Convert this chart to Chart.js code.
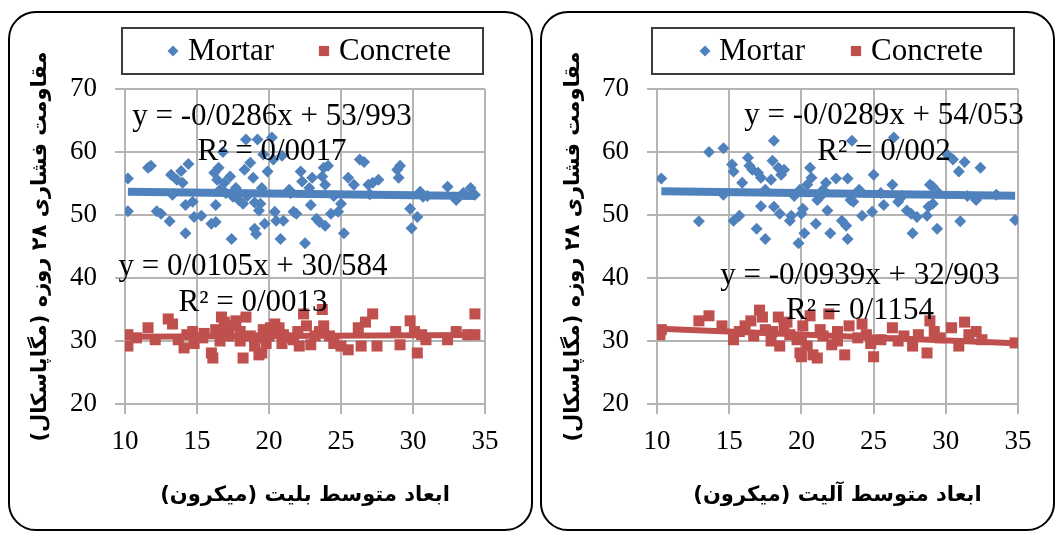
<!DOCTYPE html>
<html><head><meta charset="utf-8">
<script src="https://cdn.jsdelivr.net/npm/chart.js@4.4.1/dist/chart.umd.min.js"></script>
<style>
html,body{margin:0;padding:0;background:#fff;width:1058px;height:533px;overflow:hidden;}
.panel{position:absolute;top:11px;height:520px;border:2px solid #000;border-radius:28px;box-sizing:border-box;}
#p1{left:8px;width:525px;}
#p2{left:540px;width:515px;}
canvas{position:absolute;top:13px;}
#c1{left:10px;}
#c2{left:542px;}
</style></head><body>
<div class="panel" id="p1"></div><div class="panel" id="p2"></div>
<canvas id="c1" width="521" height="516"></canvas>
<canvas id="c2" width="511" height="516"></canvas>
<script>
// ---------- DATA ----------
const seriesNames = ['Mortar', 'Concrete'];
const xTicks = [10, 15, 20, 25, 30, 35];
const yTicks = [20, 30, 40, 50, 60, 70];
const yTitle = 'مقاومت فشاری ۲۸ روزه (مگاپاسکال)';
const xTitleBelite = 'ابعاد متوسط بلیت (میکرون)';
const xTitleAlite = 'ابعاد متوسط آلیت (میکرون)';

const beliteMortar = [[10.2,55.8],[10.2,50.6],[11.6,57.5],[11.8,57.8],[12.2,50.6],[12.5,50.2],[13.1,49.0],[13.2,56.4],[13.3,53.2],[13.6,55.6],[13.9,57.0],[14.0,55.1],[14.2,51.6],[14.2,47.1],[14.4,58.1],[14.7,52.1],[14.8,49.7],[15.3,49.9],[16.0,48.6],[16.3,48.9],[16.2,56.7],[16.5,57.5],[16.4,55.6],[16.3,51.6],[16.6,54.0],[16.8,60.0],[16.9,55.1],[17.3,56.1],[17.4,46.2],[17.5,52.9],[17.7,54.3],[17.9,52.4],[18.2,51.8],[18.3,57.2],[18.4,62.0],[18.7,58.3],[18.9,55.9],[19.0,47.8],[19.1,47.0],[19.2,62.0],[19.4,51.8],[19.3,50.7],[19.5,54.3],[19.6,59.6],[19.7,48.6],[19.9,56.9],[20.2,62.3],[20.3,58.8],[20.4,50.5],[20.5,49.1],[20.8,46.2],[20.9,59.4],[21.0,49.1],[21.4,54.0],[21.7,50.5],[21.9,50.2],[22.2,56.9],[22.3,55.3],[22.5,45.5],[22.8,54.3],[22.9,51.6],[23.0,55.9],[23.3,49.4],[23.5,48.9],[23.7,56.1],[23.8,57.5],[23.9,54.8],[23.9,48.3],[24.1,57.8],[24.3,50.2],[24.8,50.5],[25.0,51.8],[25.2,47.1],[25.5,55.9],[25.9,54.8],[26.3,58.8],[26.6,58.4],[26.9,54.8],[27.2,55.1],[27.6,55.6],[28.9,57.2],[29.0,55.9],[29.1,57.8],[29.8,51.0],[29.9,47.9],[30.3,49.7],[30.5,53.7],[30.7,52.9],[32.4,54.5],[33.0,52.4],[34.0,54.3],[34.3,53.2],[17.0,53.5],[18.5,53.0],[21.5,53.5],[24.5,53.0],[19.0,52.0],[27.0,53.3],[31.0,53.0],[33.5,53.5]];

const beliteConcrete = [[10.2,31.0],[10.2,29.2],[10.8,30.5],[11.6,32.1],[12.1,30.2],[13.0,33.5],[13.3,32.7],[13.7,30.2],[14.1,28.9],[14.3,31.0],[14.7,31.5],[14.8,29.6],[15.4,30.5],[15.5,31.2],[16.0,28.1],[16.1,27.3],[16.3,31.8],[16.6,30.0],[16.7,33.8],[16.9,33.0],[17.0,31.5],[17.2,30.8],[17.5,32.4],[17.7,33.2],[18.0,31.5],[18.0,30.0],[18.2,27.3],[18.4,33.8],[18.7,30.8],[19.0,29.2],[19.2,30.5],[19.3,27.8],[19.5,28.1],[19.6,31.8],[19.8,29.6],[20.0,30.8],[20.1,32.1],[20.4,32.7],[20.7,32.1],[20.9,29.6],[21.0,31.0],[21.3,30.5],[21.7,30.2],[22.0,31.5],[22.1,29.2],[22.4,34.3],[22.6,32.4],[22.9,29.4],[23.2,30.8],[23.5,31.5],[23.7,35.0],[23.8,32.4],[24.2,30.8],[24.5,29.6],[25.0,29.2],[25.5,28.6],[26.2,32.1],[26.4,29.2],[26.7,33.0],[27.2,34.3],[27.5,29.2],[28.8,31.5],[29.1,29.4],[29.8,33.2],[30.1,31.5],[30.3,28.1],[30.6,31.0],[30.9,30.2],[32.4,30.2],[33.0,31.5],[33.8,31.0],[34.3,34.3],[34.3,31.0]];

const aliteMortar = [[10.3,55.8],[12.9,49.0],[13.6,60.0],[14.6,60.6],[14.6,53.2],[15.2,58.0],[15.3,56.9],[15.3,49.1],[15.7,49.9],[15.9,55.1],[16.3,59.1],[16.4,57.8],[16.6,57.2],[16.9,47.8],[17.0,56.7],[17.2,55.9],[17.2,51.4],[17.5,46.2],[17.9,55.6],[18.0,58.6],[18.1,61.8],[18.1,51.3],[18.4,57.5],[18.5,50.2],[18.6,56.4],[18.8,57.2],[19.2,49.1],[19.3,49.9],[19.8,45.5],[19.9,54.0],[20.0,50.2],[20.1,51.0],[20.2,47.1],[20.4,54.8],[20.6,57.5],[20.7,55.9],[21.0,48.6],[21.1,52.4],[21.3,52.9],[21.7,55.1],[21.8,50.7],[22.0,47.1],[22.4,55.8],[22.8,49.1],[23.1,48.3],[23.2,46.2],[23.2,55.8],[23.4,52.4],[23.5,61.8],[23.6,52.1],[24.0,54.0],[24.2,49.9],[24.9,50.5],[25.0,56.4],[25.7,51.6],[26.3,54.8],[26.4,62.3],[26.7,52.1],[27.3,50.7],[27.6,50.2],[27.7,47.1],[28.0,49.7],[28.7,49.9],[28.8,51.3],[28.9,54.8],[29.1,51.8],[29.4,47.8],[29.1,54.5],[30.1,59.6],[30.5,58.8],[30.9,56.9],[31.0,49.0],[31.3,58.4],[32.1,52.4],[32.4,57.5],[34.8,49.2],[17.5,54.0],[19.5,53.0],[21.5,54.0],[25.5,53.5],[27.0,53.0],[29.5,53.5],[31.5,53.0],[33.5,53.2]];

const aliteConcrete = [[10.2,31.0],[10.3,31.8],[12.9,33.2],[13.6,34.0],[14.5,32.4],[15.3,30.2],[15.7,31.5],[16.1,32.4],[16.5,33.2],[16.7,30.8],[17.1,34.9],[17.3,33.8],[17.5,31.8],[17.9,30.0],[18.0,31.5],[18.4,33.8],[18.5,29.2],[18.8,32.4],[19.0,33.0],[19.2,31.0],[19.7,30.2],[19.9,28.1],[20.0,30.5],[20.0,27.5],[20.1,32.4],[20.4,29.2],[20.6,34.0],[20.8,27.8],[21.1,27.3],[21.3,31.8],[21.5,30.8],[21.9,34.3],[22.1,29.4],[22.5,31.5],[22.5,30.0],[23.0,27.8],[23.3,32.4],[23.9,30.5],[24.2,32.7],[24.5,31.0],[24.8,29.6],[25.0,27.5],[25.5,30.2],[26.3,32.1],[26.7,30.0],[27.1,30.8],[27.7,29.2],[28.1,31.0],[28.7,28.1],[28.9,33.2],[29.2,31.5],[29.6,30.5],[30.4,32.1],[30.9,29.2],[31.3,33.0],[31.6,31.0],[32.1,31.5],[32.5,30.2],[34.8,29.7]];

// trendline end points (as shown by the fitted lines)
const beliteMortarTrend = [[10.2,53.70],[34.3,53.01]];
const beliteConcreteTrend = [[10.2,30.69],[34.3,30.94]];
const aliteMortarTrend = [[10.3,53.76],[34.8,53.05]];
const aliteConcreteTrend = [[10.2,31.95],[34.8,29.64]];

const beliteLabels = ['y = -0/0286x + 53/993', 'R² = 0/0017', 'y = 0/0105x + 30/584', 'R² = 0/0013'];
const aliteLabels = ['y = -0/0289x + 54/053', 'R² = 0/002', 'y = -0/0939x + 32/903', 'R² = 0/1154'];

// ---------- STYLE ----------
const BLUE = '#4F81BD', RED = '#C0504D';
const GRID = '#b4b4b4';
const SERIF = '"Liberation Serif", "Times New Roman", serif';
const PERSIAN = '"DejaVu Sans", sans-serif';
const RLM = '\u200F';

const toPts = arr => arr.map(p => ({x: p[0], y: p[1]}));

const overlay = {
  id: 'overlay',
  afterDatasetsDraw(chart, args, o) {
    const ctx = chart.ctx;
    ctx.save();
    ctx.font = '31px ' + SERIF;
    ctx.fillStyle = '#000';
    ctx.textAlign = 'center';
    ctx.textBaseline = 'middle';
    o.labels.forEach(l => ctx.fillText(l.text, l.x, l.y));
    const b = o.legendBox;
    ctx.lineWidth = 2;
    ctx.strokeStyle = '#3c3c3c';
    ctx.strokeRect(b.x, b.y, b.w, b.h);
    ctx.font = '31px ' + SERIF;
    ctx.textAlign = 'left';
    o.legendItems.forEach(it => {
      ctx.fillStyle = it.color;
      Chart.helpers.drawPoint(ctx, {pointStyle: it.style, radius: it.r, rotation: 0, borderWidth: 0}, it.mx, b.y + b.h / 2);
      ctx.fillStyle = '#000';
      ctx.fillText(it.text, it.tx, b.y + b.h / 2 + 1);
    });
    ctx.restore();
  }
};

function makeChart(id, mortar, concrete, mTrend, cTrend, xTitle, labels, padRight, legendBox, legendItems, yTitleOffset) {
  new Chart(document.getElementById(id), {
    type: 'scatter',
    data: {
      datasets: [
        {label: seriesNames[0] + ' trend', data: toPts(mTrend), showLine: true, borderColor: BLUE, borderWidth: 8, pointRadius: 0, order: 0},
        {label: seriesNames[1] + ' trend', data: toPts(cTrend), showLine: true, borderColor: RED, borderWidth: 6, pointRadius: 0, order: 0},
        {label: seriesNames[0], data: toPts(mortar), pointStyle: 'rectRot', pointRadius: 6, backgroundColor: BLUE, borderWidth: 0, order: 2},
        {label: seriesNames[1], data: toPts(concrete), pointStyle: 'rect', pointRadius: 7.8, backgroundColor: RED, borderWidth: 0, order: 1}
      ]
    },
    options: {
      responsive: false,
      animation: false,
      events: [],
      layout: {padding: {top: 76, right: padRight, left: 0, bottom: 0}},
      plugins: {
        legend: {display: false},
        tooltip: {enabled: false},
        overlay: {labels: labels, legendBox: legendBox, legendItems: legendItems}
      },
      scales: {
        x: {
          type: 'linear', min: xTicks[0], max: xTicks[xTicks.length - 1],
          afterBuildTicks: s => { s.ticks = xTicks.map(v => ({value: v})); },
          ticks: {font: {family: SERIF, size: 27}, color: '#000', padding: 12, maxRotation: 0, autoSkip: false},
          grid: {color: GRID, lineWidth: 2, tickLength: 10, drawTicks: true},
          border: {display: true, color: GRID, width: 2},
          title: {display: true, text: RLM + xTitle + RLM, font: {family: PERSIAN, size: 21, weight: 'bold'}, color: '#000', padding: {top: 0, bottom: 21}},
          afterFit: s => { s.height = 125; }
        },
        y: {
          type: 'linear', min: yTicks[0], max: yTicks[yTicks.length - 1],
          afterBuildTicks: s => { s.ticks = yTicks.map(v => ({value: v})); },
          ticks: {font: {family: SERIF, size: 27}, color: '#000', padding: 18},
          grid: {color: GRID, lineWidth: 2, tickLength: 10, drawTicks: true},
          border: {display: true, color: GRID, width: 2},
          title: {display: true, text: RLM + yTitle + RLM, font: {family: PERSIAN, size: 21, weight: 'bold'}, color: '#000', padding: {top: yTitleOffset, bottom: 0}},
          afterFit: s => { s.width = 115; }
        }
      }
    },
    plugins: [overlay]
  });
}

makeChart('c1', beliteMortar, beliteConcrete, beliteMortarTrend, beliteConcreteTrend, xTitleBelite,
  [{text: beliteLabels[0], x: 262, y: 104}, {text: beliteLabels[1], x: 262, y: 139},
   {text: beliteLabels[2], x: 243, y: 254}, {text: beliteLabels[3], x: 243, y: 290}],
  46,
  {x: 112, y: 15, w: 361, h: 46},
  [{style: 'rectRot', r: 5.5, color: BLUE, mx: 163, tx: 178, text: seriesNames[0]},
   {style: 'rect', r: 7.2, color: RED, mx: 314, tx: 329, text: seriesNames[1]}],
  18);

makeChart('c2', aliteMortar, aliteConcrete, aliteMortarTrend, aliteConcreteTrend, xTitleAlite,
  [{text: aliteLabels[0], x: 342, y: 103}, {text: aliteLabels[1], x: 342, y: 139},
   {text: aliteLabels[2], x: 318, y: 263}, {text: aliteLabels[3], x: 318, y: 298}],
  35,
  {x: 110, y: 15, w: 362, h: 46},
  [{style: 'rectRot', r: 5.5, color: BLUE, mx: 163, tx: 177, text: seriesNames[0]},
   {style: 'rect', r: 7.2, color: RED, mx: 314, tx: 329, text: seriesNames[1]}],
  19);
</script>
</body></html>
